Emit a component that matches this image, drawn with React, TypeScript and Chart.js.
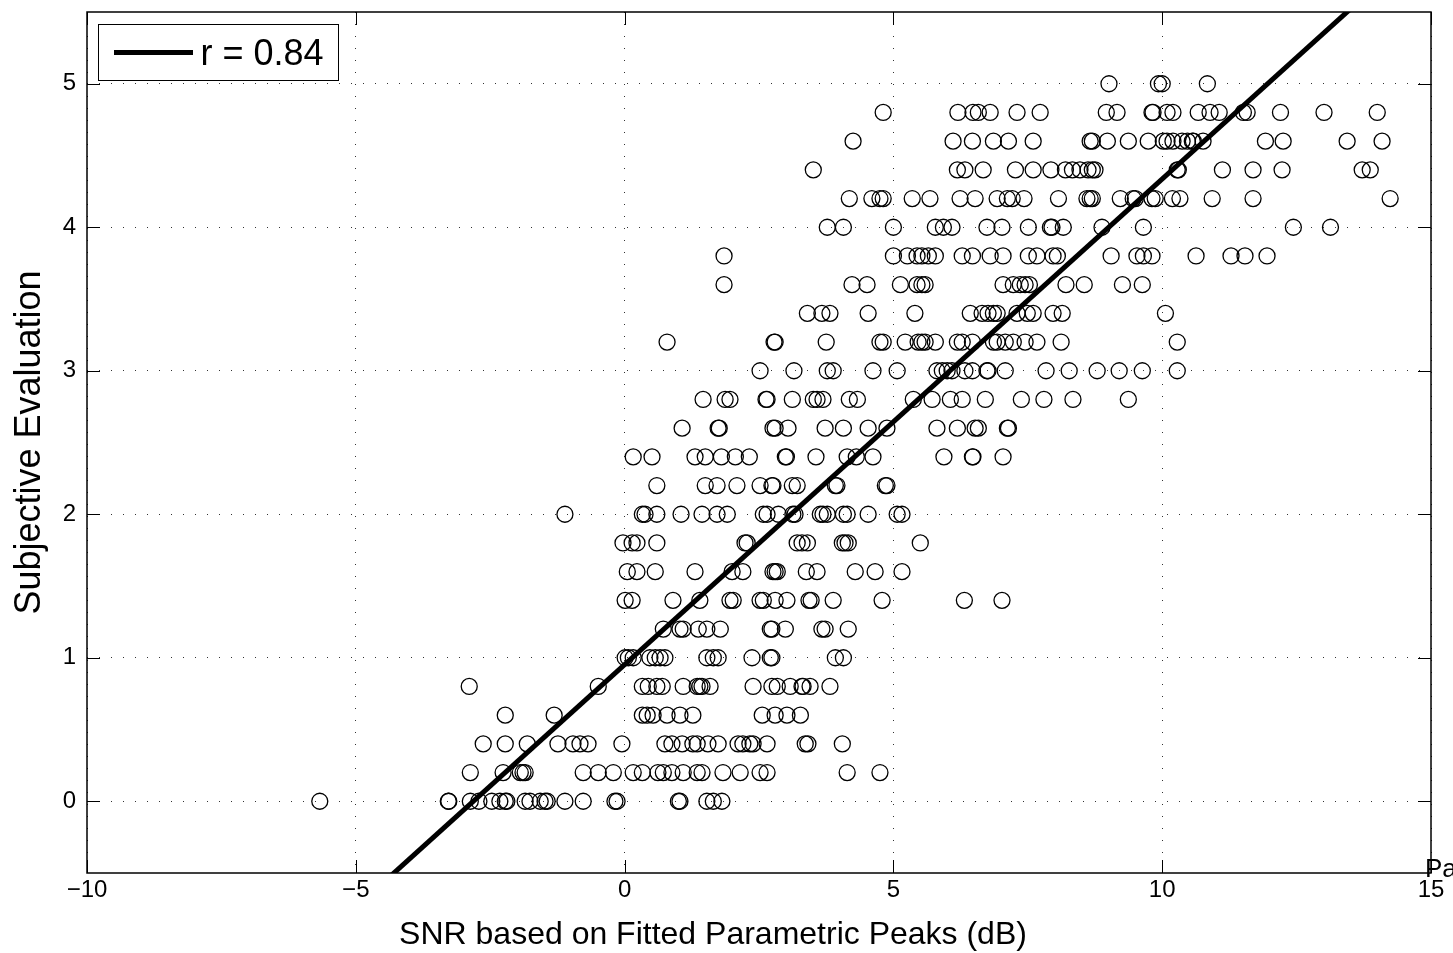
import React, { useEffect, useRef } from 'react';
import { Chart, registerables } from 'chart.js';

Chart.register(...registerables);

// ---------- data ----------
const xTickValues = [-10, -5, 0, 5, 10, 15];
const yTickValues = [0, 1, 2, 3, 4, 5];
const xAxisTitle = 'SNR based on Fitted Parametric Peaks (dB)';
const yAxisTitle = 'Subjective Evaluation';
const legendLabel = 'r = 0.84';
const fitLineX = [-5, 14];
const fitLineY = [-0.74, 5.69];

// SNR values (dB) of the points, grouped by their subjective score
const snrScore00 = [-5.67, -3.28, -3.27, -2.87, -2.71, -2.47, -2.32, -2.22, -2.19, -1.85, -1.76, -1.57, -1.48, -1.44, -1.11, -0.77, -0.18, -0.14, 1.0, 1.03, 1.53, 1.65, 1.81];
const snrScore02 = [-2.87, -2.26, -1.94, -1.89, -1.85, -0.77, -0.49, -0.21, 0.16, 0.33, 0.62, 0.72, 0.88, 1.09, 1.35, 1.44, 1.83, 2.15, 2.52, 2.65, 4.14, 4.75];
const snrScore04 = [-2.63, -2.22, -1.81, -1.24, -0.96, -0.83, -0.68, -0.05, 0.75, 0.88, 1.07, 1.27, 1.35, 1.55, 1.74, 2.11, 2.2, 2.33, 2.39, 2.65, 3.36, 3.41, 4.05];
const snrScore06 = [-2.22, -1.31, 0.33, 0.42, 0.53, 0.79, 1.03, 1.27, 2.56, 2.8, 3.02, 3.27];
const snrScore08 = [-2.89, -0.49, 0.33, 0.44, 0.6, 0.7, 1.09, 1.35, 1.4, 1.44, 1.59, 2.39, 2.74, 2.84, 3.08, 3.3, 3.32, 3.45, 3.82];
const snrScore10 = [0.01, 0.07, 0.16, 0.47, 0.57, 0.66, 0.75, 1.53, 1.65, 1.74, 2.37, 2.71, 2.74, 3.92, 4.07];
const snrScore12 = [0.72, 1.03, 1.09, 1.37, 1.53, 1.78, 2.71, 2.74, 2.99, 3.67, 3.73, 4.16];
const snrScore14 = [0.01, 0.14, 0.9, 1.4, 1.96, 2.02, 2.52, 2.58, 2.8, 3.02, 3.43, 3.47, 3.88, 4.79, 6.32, 7.02];
const snrScore16 = [0.05, 0.23, 0.57, 1.31, 2.0, 2.2, 2.76, 2.8, 2.84, 3.38, 3.58, 4.29, 4.66, 5.16];
const snrScore18 = [-0.03, 0.14, 0.23, 0.6, 2.24, 2.28, 3.21, 3.3, 3.4, 4.05, 4.1, 4.16, 5.5];
const snrScore20 = [-1.11, 0.33, 0.38, 0.6, 1.05, 1.44, 1.72, 1.91, 2.58, 2.65, 2.86, 3.13, 3.17, 3.64, 3.69, 3.77, 4.07, 4.14, 4.53, 5.07, 5.16];
const snrScore22 = [0.6, 1.5, 1.72, 2.09, 2.52, 2.74, 2.76, 3.12, 3.21, 3.92, 3.95, 4.85, 4.88];
const snrScore24 = [0.16, 0.51, 1.31, 1.5, 1.8, 2.06, 2.32, 2.99, 3.01, 3.56, 4.14, 4.31, 4.62, 5.94, 6.47, 6.48, 7.04];
const snrScore26 = [1.07, 1.74, 1.76, 2.76, 2.8, 3.04, 3.73, 4.07, 4.53, 4.88, 5.81, 6.19, 6.52, 6.58, 7.12, 7.14];
const snrScore28 = [1.46, 1.87, 1.96, 2.63, 2.65, 3.12, 3.51, 3.58, 3.69, 4.18, 4.33, 5.37, 5.72, 6.06, 6.28, 6.71, 7.38, 7.8, 8.34, 9.37];
const snrScore30 = [2.52, 3.15, 3.77, 3.88, 4.62, 5.07, 5.81, 5.91, 6.0, 6.09, 6.33, 6.47, 6.74, 6.76, 7.08, 7.84, 8.27, 8.79, 9.2, 9.63, 10.28];
const snrScore32 = [0.79, 2.78, 2.8, 3.75, 4.75, 4.81, 5.22, 5.46, 5.53, 5.59, 5.78, 6.19, 6.28, 6.47, 6.86, 6.93, 7.08, 7.23, 7.45, 7.67, 8.12, 10.28];
const snrScore34 = [3.4, 3.67, 3.82, 4.53, 5.4, 6.43, 6.65, 6.76, 6.86, 6.93, 7.3, 7.49, 7.6, 7.97, 8.14, 10.06];
const snrScore36 = [1.85, 4.23, 4.51, 5.13, 5.44, 5.53, 5.59, 7.04, 7.23, 7.36, 7.45, 7.53, 8.21, 8.55, 9.26, 9.63];
const snrScore38 = [1.85, 5.0, 5.26, 5.44, 5.53, 5.65, 5.78, 6.28, 6.47, 6.8, 7.04, 7.51, 7.67, 7.97, 8.05, 9.05, 9.53, 9.65, 9.81, 10.63, 11.28, 11.54, 11.95];
const snrScore40 = [3.77, 4.07, 5.0, 5.78, 5.93, 6.09, 6.74, 7.02, 7.51, 7.92, 7.95, 8.16, 8.88, 9.65, 12.44, 13.13];
const snrScore42 = [4.18, 4.6, 4.75, 4.81, 5.35, 5.68, 6.24, 6.52, 6.93, 7.12, 7.21, 7.43, 8.07, 8.6, 8.66, 8.7, 9.22, 9.46, 9.5, 9.81, 9.87, 10.19, 10.33, 10.93, 11.69, 14.24];
const snrScore44 = [3.51, 6.19, 6.33, 6.67, 7.27, 7.6, 7.93, 8.2, 8.33, 8.47, 8.62, 8.7, 8.75, 10.28, 10.3, 11.12, 11.69, 12.23, 13.72, 13.87];
const snrScore46 = [4.25, 6.11, 6.47, 6.86, 7.14, 7.6, 8.66, 8.7, 8.98, 9.37, 9.74, 10.02, 10.09, 10.2, 10.37, 10.47, 10.56, 10.58, 10.76, 11.92, 12.25, 13.44, 14.09];
const snrScore48 = [4.81, 6.2, 6.48, 6.58, 6.8, 7.3, 7.73, 8.96, 9.16, 9.81, 9.83, 10.09, 10.2, 10.67, 10.89, 11.06, 11.51, 11.58, 12.2, 13.01, 14.0];
const snrScore50 = [9.01, 9.93, 10.0, 10.84];

const scoreLevels = [0, 0.2, 0.4, 0.6, 0.8, 1.0, 1.2, 1.4, 1.6, 1.8, 2.0, 2.2, 2.4, 2.6, 2.8, 3.0, 3.2, 3.4, 3.6, 3.8, 4.0, 4.2, 4.4, 4.6, 4.8, 5.0];
const snrByScore = [
  snrScore00, snrScore02, snrScore04, snrScore06, snrScore08, snrScore10, snrScore12,
  snrScore14, snrScore16, snrScore18, snrScore20, snrScore22, snrScore24, snrScore26,
  snrScore28, snrScore30, snrScore32, snrScore34, snrScore36, snrScore38, snrScore40,
  snrScore42, snrScore44, snrScore46, snrScore48, snrScore50,
];

// ---------- styling ----------
const FONT = "'Liberation Sans', Arial, Helvetica, sans-serif";
const fmtTick = (v: number) => (v < 0 ? '\u2212' + Math.abs(v) : String(v));

const decorPlugin = {
  id: 'matlabDecor',
  afterDatasetsDraw(chart: any) {
    const { ctx, chartArea: a, scales } = chart;
    const xs = scales.x;
    const ys = scales.y;
    ctx.save();
    // inward tick marks
    ctx.strokeStyle = '#000';
    ctx.lineWidth = 1;
    const tl = 13;
    ctx.beginPath();
    xTickValues.forEach((v) => {
      const px = Math.round(xs.getPixelForValue(v)) + 0.5;
      ctx.moveTo(px, a.bottom);
      ctx.lineTo(px, a.bottom - tl);
      ctx.moveTo(px, a.top);
      ctx.lineTo(px, a.top + tl);
    });
    yTickValues.forEach((v) => {
      const py = Math.round(ys.getPixelForValue(v)) + 0.5;
      ctx.moveTo(a.left, py);
      ctx.lineTo(a.left + tl, py);
      ctx.moveTo(a.right, py);
      ctx.lineTo(a.right - tl, py);
    });
    ctx.stroke();
    // frame
    ctx.lineWidth = 1.5;
    ctx.strokeRect(a.left, a.top, a.right - a.left, a.bottom - a.top);

    // legend box
    const lx = 98.5, ly = 24.5, lw = 240, lh = 56;
    ctx.fillStyle = '#fff';
    ctx.fillRect(lx, ly, lw, lh);
    ctx.lineWidth = 1;
    ctx.strokeStyle = '#000';
    ctx.strokeRect(lx, ly, lw, lh);
    ctx.lineWidth = 5;
    ctx.beginPath();
    ctx.moveTo(114, 52.5);
    ctx.lineTo(193, 52.5);
    ctx.stroke();
    ctx.fillStyle = '#000';
    ctx.font = `36px ${FONT}`;
    ctx.textAlign = 'left';
    ctx.textBaseline = 'alphabetic';
    ctx.fillText(legendLabel, 200.5, 65);

    // axis titles
    ctx.font = `32px ${FONT}`;
    ctx.textAlign = 'center';
    ctx.fillText(xAxisTitle, 713, 944);
    ctx.save();
    ctx.font = `36px ${FONT}`;
    ctx.translate(40, (a.top + a.bottom) / 2);
    ctx.rotate(-Math.PI / 2);
    ctx.fillText(yAxisTitle, 0, 0);
    ctx.restore();

    // clipped page text at bottom-right corner
    ctx.font = `26px ${FONT}`;
    ctx.textAlign = 'left';
    ctx.fillText('Page', 1425, 877);
    ctx.restore();
  },
};

export default function App() {
  const canvasRef = useRef<HTMLCanvasElement>(null);

  useEffect(() => {
    const canvas = canvasRef.current;
    if (!canvas) return;
    const points = scoreLevels.flatMap((score, i) =>
      snrByScore[i].map((snr) => ({ x: snr, y: score }))
    );
    const fitPoints = fitLineX.map((x, i) => ({ x, y: fitLineY[i] }));

    const chart = new Chart(canvas, {
      type: 'scatter',
      data: {
        datasets: [
          {
            label: legendLabel,
            data: fitPoints,
            showLine: true,
            borderColor: '#000',
            borderWidth: 5,
            pointRadius: 0,
            order: 0,
            clip: 0,
          } as any,
          {
            label: 'observations',
            data: points,
            pointStyle: 'circle',
            pointRadius: 8,
            pointBorderWidth: 1.3,
            pointBorderColor: '#000',
            pointBackgroundColor: 'rgba(0,0,0,0)',
            order: 1,
          } as any,
        ],
      },
      options: {
        animation: false,
        responsive: false,
        devicePixelRatio: 1,
        events: [],
        layout: { padding: { left: 0, top: 12, right: 22, bottom: 0 } },
        plugins: {
          legend: { display: false },
          tooltip: { enabled: false },
        },
        scales: {
          x: {
            type: 'linear',
            min: -10,
            max: 15,
            afterBuildTicks: (s: any) => {
              s.ticks = xTickValues.map((v) => ({ value: v }));
            },
            afterFit: (s: any) => {
              s.height = 80;
              s.paddingLeft = 0;
              s.paddingRight = 0;
            },
            ticks: {
              autoSkip: false,
              maxRotation: 0,
              padding: 3,
              color: '#000',
              font: { family: FONT, size: 24 },
              callback: (v: any) => fmtTick(Number(v)),
            },
            grid: { color: 'rgba(0,0,0,0.8)', lineWidth: 1, drawTicks: false },
            border: { display: false, dash: [1, 11] },
          },
          y: {
            type: 'linear',
            min: -0.5,
            max: 5.5,
            afterBuildTicks: (s: any) => {
              s.ticks = yTickValues.map((v) => ({ value: v }));
            },
            afterFit: (s: any) => {
              s.width = 87;
              s.paddingTop = 0;
              s.paddingBottom = 0;
            },
            ticks: {
              autoSkip: false,
              padding: 11,
              color: '#000',
              font: { family: FONT, size: 24 },
              callback: (v: any) => fmtTick(Number(v)),
            },
            grid: { color: 'rgba(0,0,0,0.8)', lineWidth: 1, drawTicks: false },
            border: { display: false, dash: [1, 11] },
          },
        },
      } as any,
      plugins: [decorPlugin],
    });

    return () => chart.destroy();
  }, []);

  return (
    <div style={{ position: 'absolute', left: 0, top: 0, width: 1453, height: 953, background: '#fff', overflow: 'hidden' }}>
      <canvas ref={canvasRef} width={1453} height={953} style={{ display: 'block' }} />
    </div>
  );
}
